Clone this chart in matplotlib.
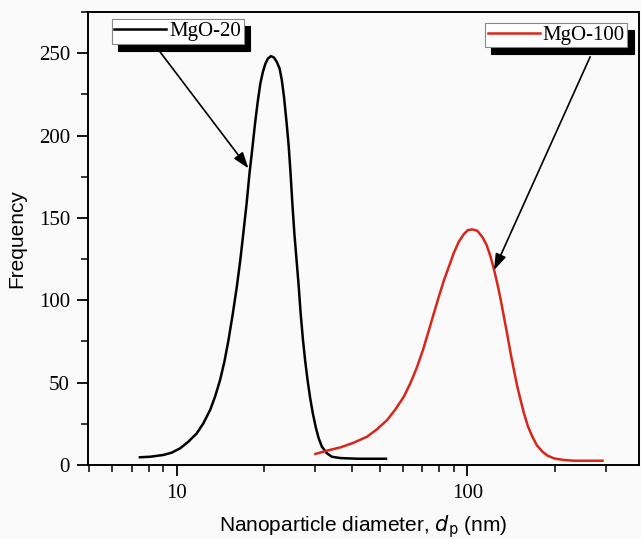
import matplotlib
matplotlib.use("Agg")
import matplotlib.pyplot as plt
from matplotlib.ticker import LogLocator, FixedLocator, NullFormatter, MultipleLocator

# ---- data ----
d_mgo20 = [7.47, 8.09, 9.0, 9.61, 10.27, 10.96, 11.72, 12.35, 13.03, 13.55, 14.1, 14.59,
           15.07, 15.6, 16.1, 16.55, 16.95, 17.4, 17.8, 18.23, 18.6, 19.0, 19.4, 19.8,
           20.2, 20.6, 21.1, 21.6, 22.1, 22.6, 23.0, 23.4, 23.9, 24.3, 24.65, 25.0,
           25.4, 25.85, 26.3, 26.7, 27.2, 27.7, 28.2, 28.8, 29.4, 30.1, 30.8, 31.6,
           32.9, 34.2, 36.6, 42.0, 52.5]
f_mgo20 = [4.7, 5.0, 6.1, 7.5, 10.1, 14.1, 19.2, 25.3, 33.4, 41.5, 51.6, 62.7,
           75.8, 92.0, 108.2, 124.4, 140.6, 158.8, 177.0, 193.1, 207.3, 220.5, 231.6, 238.7,
           243.7, 246.8, 248.2, 247.4, 244.7, 240.7, 233.6, 223.5, 207.3, 193.1, 177.0, 158.8,
           140.6, 124.4, 108.2, 92.0, 75.8, 62.7, 51.6, 40.5, 31.4, 22.9, 16.2, 11.1,
           7.1, 5.0, 4.2, 3.8, 3.8]

d_mgo100 = [30.0, 32.9, 36.6, 40.6, 45.2, 48.9, 53.0, 56.6, 60.5, 63.8, 67.2, 70.5,
            73.8, 76.7, 79.8, 83.0, 86.4, 89.9, 93.5, 97.4, 100.5, 104.0, 108.3, 112.6,
            116.6, 120.3, 123.6, 126.8, 130.3, 133.7, 137.4, 141.0, 144.9, 148.7, 152.8,
            156.7, 161.9, 167.5, 173.4, 181.4, 188.8, 199.0, 215.4, 233.0, 292.0]
f_mgo100 = [6.7, 8.7, 10.7, 13.5, 17.2, 21.7, 27.3, 33.8, 41.5, 49.9, 59.6, 70.2,
            81.9, 92.0, 102.1, 111.8, 120.3, 128.8, 135.5, 140.2, 142.6, 143.0, 142.2, 138.5,
            133.5, 126.4, 118.7, 110.3, 100.5, 90.0, 78.9, 67.8, 57.2, 47.5, 39.0,
            31.4, 23.3, 17.2, 12.1, 8.1, 5.7, 4.0, 3.0, 2.6, 2.6]

labels = ["MgO-20", "MgO-100"]
colors = ["#000000", "#d8261b"]

# annotation arrows: (text point, tip point) in data units
arrow20 = ((8.76, 250.8), (17.66, 180.0))
arrow100 = ((264.8, 247.8), (123.6, 118.3))

xticks_major = [10, 100]
yticks_major = [0, 50, 100, 150, 200, 250]

# ---- figure ----
bg = "#fafafa"
fig = plt.figure(figsize=(6.41, 5.39), dpi=100, facecolor=bg)
ax = fig.add_axes([88/641, 1-465/539, (639-88)/641, (465-12)/539], facecolor=bg)

l1, = ax.plot(d_mgo20, f_mgo20, color=colors[0], lw=1.8, label=labels[0], solid_joinstyle="round")
l2, = ax.plot(d_mgo100, f_mgo100, color=colors[1], lw=1.8, label=labels[1], solid_joinstyle="round")

ax.set_xscale("log")
ax.set_xlim(4.95, 390)
ax.set_ylim(0, 275)

ax.xaxis.set_major_locator(FixedLocator(xticks_major))
ax.xaxis.set_minor_locator(LogLocator(base=10, subs=range(2, 10), numticks=20))
ax.xaxis.set_minor_formatter(NullFormatter())
ax.set_xticklabels([str(t) for t in xticks_major])
ax.yaxis.set_major_locator(FixedLocator(yticks_major))
ax.yaxis.set_minor_locator(MultipleLocator(25))

serif = "Liberation Serif"
sans = "Liberation Sans"
for lab in ax.get_xticklabels() + ax.get_yticklabels():
    lab.set_fontfamily(serif)
    lab.set_fontsize(15)

ax.tick_params(which="major", direction="out", length=8, width=1.3, pad=5)
ax.tick_params(which="minor", direction="out", length=5, width=1.1)
ax.tick_params(axis="x", which="major", pad=6)
for s in ax.spines.values():
    s.set_linewidth(1.4)

plt.rcParams["mathtext.fontset"] = "custom"
plt.rcParams["mathtext.rm"] = sans
plt.rcParams["mathtext.it"] = sans + ":italic"
ax.set_xlabel(r"Nanoparticle diameter, $\mathit{d}_\mathrm{p}$ (nm)", family=sans, fontsize=15, labelpad=7)
ax.set_ylabel("Frequency", family=sans, fontsize=15, labelpad=9)

shadow = {"color": "black", "alpha": 1.0, "ox": 4.5, "oy": -5}
common = dict(prop={"family": serif, "size": 15}, fancybox=False, shadow=shadow,
              framealpha=1, edgecolor="#888888", facecolor="white",
              handlelength=2.5, handletextpad=0.15, borderpad=0.12, borderaxespad=0)
leg1 = ax.legend(handles=[l1], loc="upper left", bbox_to_anchor=(0.043, 0.984), **common)
leg1.get_frame().set_linewidth(0.8)
ax.add_artist(leg1)
leg2 = ax.legend(handles=[l2], loc="upper right", bbox_to_anchor=(0.979, 0.976), **common)
leg2.get_frame().set_linewidth(0.8)

for (start, tip) in (arrow20, arrow100):
    ax.annotate("", xy=tip, xytext=start,
                arrowprops=dict(arrowstyle="-|>,head_length=0.65,head_width=0.22",
                                color="black", lw=1.2,
                                mutation_scale=15, shrinkA=0, shrinkB=0))

fig.savefig("out.png", dpi=100, facecolor=bg)
